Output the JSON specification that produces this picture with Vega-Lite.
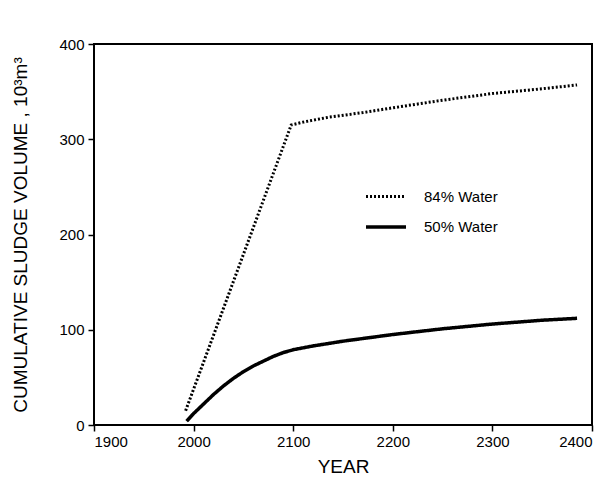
{
  "$schema": "https://vega.github.io/schema/vega-lite/v6.json",
  "autosize": {"type": "none"},
  "width": 498,
  "height": 381,
  "padding": {"left": 94, "top": 44, "right": 24, "bottom": 60},
  "background": "white",
  "config": {
    "view": {"stroke": "black", "strokeWidth": 2},
    "font": "Liberation Sans",
    "axis": {
      "domain": false,
      "grid": false,
      "ticks": true,
      "tickColor": "black",
      "tickWidth": 1.5,
      "tickSize": 6,
      "labelColor": "black",
      "labelFont": "Liberation Sans",
      "labelFontSize": 15,
      "titleColor": "black",
      "titleFont": "Liberation Sans",
      "titleFontSize": 19,
      "titleFontWeight": "normal"
    }
  },
  "data": {
    "values": [
      {"year": 1992, "volume": 15, "series": "84% Water"},
      {"year": 2098, "volume": 315, "series": "84% Water"},
      {"year": 2110, "volume": 318, "series": "84% Water"},
      {"year": 2135, "volume": 323, "series": "84% Water"},
      {"year": 2170, "volume": 328, "series": "84% Water"},
      {"year": 2200, "volume": 333, "series": "84% Water"},
      {"year": 2250, "volume": 341, "series": "84% Water"},
      {"year": 2300, "volume": 348, "series": "84% Water"},
      {"year": 2350, "volume": 353, "series": "84% Water"},
      {"year": 2385, "volume": 357, "series": "84% Water"},
      {"year": 1993, "volume": 4, "series": "50% Water"},
      {"year": 2000, "volume": 12, "series": "50% Water"},
      {"year": 2010, "volume": 22, "series": "50% Water"},
      {"year": 2020, "volume": 32, "series": "50% Water"},
      {"year": 2030, "volume": 41, "series": "50% Water"},
      {"year": 2040, "volume": 49, "series": "50% Water"},
      {"year": 2050, "volume": 56, "series": "50% Water"},
      {"year": 2060, "volume": 62, "series": "50% Water"},
      {"year": 2070, "volume": 67, "series": "50% Water"},
      {"year": 2080, "volume": 72, "series": "50% Water"},
      {"year": 2090, "volume": 76, "series": "50% Water"},
      {"year": 2100, "volume": 79, "series": "50% Water"},
      {"year": 2120, "volume": 83, "series": "50% Water"},
      {"year": 2150, "volume": 88, "series": "50% Water"},
      {"year": 2200, "volume": 95, "series": "50% Water"},
      {"year": 2250, "volume": 101, "series": "50% Water"},
      {"year": 2300, "volume": 106, "series": "50% Water"},
      {"year": 2350, "volume": 110, "series": "50% Water"},
      {"year": 2385, "volume": 112, "series": "50% Water"}
    ]
  },
  "mark": {"type": "line", "color": "black", "clip": true},
  "encoding": {
    "x": {
      "field": "year",
      "type": "quantitative",
      "scale": {"domain": [1900, 2400], "nice": false, "zero": false},
      "axis": {"values": [1900, 2000, 2100, 2200, 2300, 2400], "format": "d", "title": "YEAR", "labelPadding": 3, "titlePadding": 8}
    },
    "y": {
      "field": "volume",
      "type": "quantitative",
      "scale": {"domain": [0, 400], "nice": false},
      "axis": {"values": [0, 100, 200, 300, 400], "title": "CUMULATIVE SLUDGE VOLUME , 10³m³", "labelPadding": 4, "titlePadding": 28}
    },
    "strokeDash": {
      "field": "series",
      "type": "nominal",
      "scale": {"domain": ["84% Water", "50% Water"], "range": [[2, 2], [1, 0]]},
      "legend": {
        "orient": "none",
        "legendX": 270,
        "legendY": 131,
        "title": null,
        "symbolType": "stroke",
        "symbolSize": 1600,
        "symbolStrokeColor": "black",
        "labelFontSize": 15,
        "labelColor": "black",
        "labelFont": "Liberation Sans",
        "labelOffset": 16,
        "rowPadding": -13
      }
    },
    "strokeWidth": {
      "field": "series",
      "type": "nominal",
      "scale": {"domain": ["84% Water", "50% Water"], "range": [3, 3.5]},
      "legend": null
    }
  }
}
